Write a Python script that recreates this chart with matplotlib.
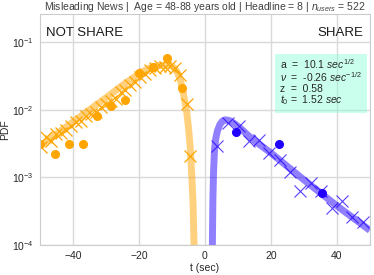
"""Fit of first-passage times: share vs not share"""

import numpy as np
import matplotlib.pyplot as plt
import seaborn as sns

sns.set_style("whitegrid")
plt.rcParams['font.family'] = ['Liberation Sans', 'DejaVu Sans']
plt.rcParams['mathtext.fontset'] = 'custom'
plt.rcParams['mathtext.rm'] = 'Liberation Sans'
plt.rcParams['mathtext.it'] = 'Liberation Sans:italic'

ORANGE = "#FFA500"
BLUE = "#2200FF"

# NOT SHARE (negative times): fine bins, coarse bins, fit
NS_T_FINE = [-49.6, -48.1, -46.6, -45.1, -43.6, -42.1, -40.6, -39.1, -37.6,
             -36.1, -34.6, -33.1, -31.6, -30.1, -28.6, -27.1, -25.6, -24.1,
             -22.6, -21.1, -19.6, -18.1, -16.6, -15.1, -13.6, -12.1, -10.6,
             -9.1, -7.6, -5.4, -4.5]
NS_P_FINE = [2.8e-3, 3.9e-3, 3.5e-3, 4.4e-3, 4.6e-3, 5.0e-3, 5.8e-3, 6.5e-3,
             6.8e-3, 8.0e-3, 8.6e-3, 9.2e-3, 1.1e-2, 1.2e-2, 1.35e-2, 1.45e-2,
             1.8e-2, 1.95e-2, 2.3e-2, 2.6e-2, 3.1e-2, 3.4e-2, 3.9e-2, 4.2e-2,
             4.4e-2, 4.3e-2, 4.5e-2, 4.1e-2, 3.3e-2, 1.2e-2, 2.1e-3]
NS_T_COARSE = [-49.9, -45.5, -41.3, -37.1, -32.8, -28.4, -24.2, -19.9, -15.7,
               -11.4, -7.1]
NS_P_COARSE = [3.1e-3, 2.2e-3, 3.1e-3, 3.1e-3, 8.2e-3, 1.12e-2, 1.37e-2,
               3.5e-2, 4.3e-2, 5.9e-2, 2.1e-2]
NS_T_FIT = [-50, -45, -40, -35, -30, -25, -20, -17, -14, -12, -10, -9, -8.3,
            -7.5, -7.0, -6.5, -6.0, -5.5, -5.0, -4.5, -4.0, -3.6, -3.3, -3.1]
NS_P_FIT = [2.9e-3, 4.4e-3, 6.6e-3, 1.0e-2, 1.5e-2, 2.3e-2, 3.4e-2, 4.1e-2,
            4.5e-2, 4.6e-2, 4.4e-2, 4.0e-2, 3.5e-2, 2.8e-2, 2.2e-2, 1.7e-2,
            1.25e-2, 9e-3, 5.5e-3, 2.9e-3, 1.1e-3, 4e-4, 1e-4, 4e-5]

# SHARE (positive times)
S_T_FINE = [3.7, 7.0, 10.2, 13.3, 16.3, 19.5, 22.6, 25.8, 28.9, 32.1, 35.2,
            38.4, 41.4, 44.7, 47.8]
S_P_FINE = [2.9e-3, 6.3e-3, 5.7e-3, 3.5e-3, 3.6e-3, 2.3e-3, 1.8e-3, 1.2e-3,
            6.3e-4, 8.3e-4, 6.2e-4, 3.5e-4, 4.5e-4, 2.6e-4, 2.2e-4]
S_T_COARSE = [9.3, 22.3, 35.4]
S_P_COARSE = [4.7e-3, 3.1e-3, 5.8e-4]
S_T_FIT = [2.1, 2.25, 2.4, 2.6, 2.9, 3.3, 3.8, 4.5, 5.3, 6.2, 7.5, 9.0, 11.0,
           13.0, 16.0, 20.0, 25.0, 30.0, 35.0, 40.0, 45.0, 50.0]
S_P_FIT = [4e-5, 1e-4, 4.5e-4, 1.2e-3, 2.6e-3, 3.8e-3, 4.9e-3, 6.0e-3, 6.8e-3,
           7.1e-3, 6.9e-3, 6.2e-3, 5.2e-3, 4.2e-3, 3.2e-3, 2.3e-3, 1.45e-3,
           9.2e-4, 5.9e-4, 3.8e-4, 2.5e-4, 1.65e-4]

TITLE = r"Misleading News |  Age = 48-88 years old | Headline = 8 | $n_{users}$ = 522"
PARAMS = ("a  =  10.1 $sec^{1/2}$\n"
          r"$\nu$  =  -0.26 $sec^{-1/2}$" "\n"
          "z  =  0.58\n"
          "$t_0$ =  1.52 $sec$")

fig = plt.figure(figsize=(3.74, 2.75), dpi=100)
ax = fig.add_axes([0.107, 0.109, 0.882, 0.840])

ax.plot(NS_T_FIT, NS_P_FIT, "-", color=ORANGE, alpha=0.5, lw=5,
        solid_capstyle="butt")
ax.plot(S_T_FIT, S_P_FIT, "-", color=BLUE, alpha=0.5, lw=5,
        solid_capstyle="butt")
ax.plot(NS_T_FINE, NS_P_FINE, "x", color=ORANGE, ms=8, mew=0.9)
ax.plot(NS_T_COARSE, NS_P_COARSE, "o", color=ORANGE, ms=5.5)
ax.plot(S_T_FINE, S_P_FINE, "x", color=BLUE, ms=8, mew=0.8, alpha=0.75)
ax.plot(S_T_COARSE, S_P_COARSE, "o", color=BLUE, ms=5.5)

ax.set_yscale("log")
ax.set_xlim(-50, 50)
ax.set_ylim(1e-4, 0.26)
ax.set_xticks([-40, -20, 0, 20, 40])
ax.grid(True, color="0.85", lw=1)
ax.tick_params(labelsize=7.5, pad=1, colors=".15")
ax.set_xlabel("t (sec)", fontsize=7.5, labelpad=1, color=".15")
ax.set_ylabel("PDF", fontsize=7.5, labelpad=1, color=".15")
ax.set_title(TITLE, fontsize=7.5, pad=3, color=".25")

ax.text(0.018, 0.918, "NOT SHARE", transform=ax.transAxes, fontsize=9.5,
        va="center", ha="left", color="0.1")
ax.text(0.979, 0.918, "SHARE", transform=ax.transAxes, fontsize=9.5,
        va="center", ha="right", color="0.1")
ax.text(0.727, 0.812, PARAMS, transform=ax.transAxes, fontsize=7.5,
        va="top", ha="left", color="0.15", linespacing=0.95,
        bbox=dict(boxstyle="square,pad=0.5", facecolor="aquamarine",
                  alpha=0.4, edgecolor="none"))

plt.savefig("out.png", dpi=100)
